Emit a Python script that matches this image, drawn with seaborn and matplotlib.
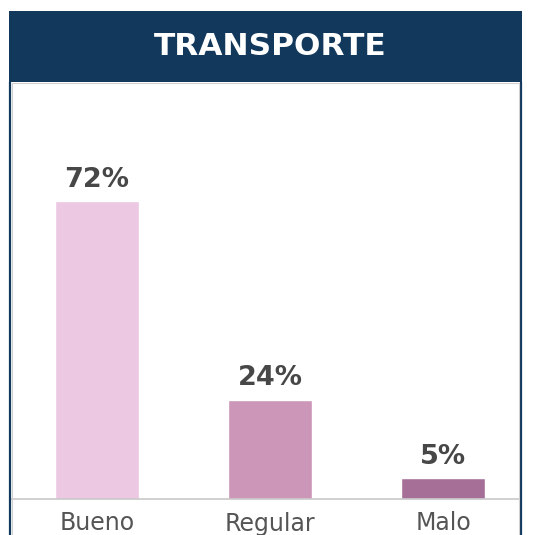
import matplotlib
matplotlib.use("Agg")
import matplotlib.pyplot as plt
import seaborn as sns
import pandas as pd
from matplotlib.patches import Rectangle
from matplotlib.lines import Line2D

categories = ["Bueno", "Regular", "Malo"]
values = [72, 24, 5]
labels = ["72%", "24%", "5%"]
colors = ["#EDC8E3", "#CC96B8", "#A66F98"]
title = "TRANSPORTE"

sns.set_theme(style="white")
plt.rcParams['font.family'] = ['DejaVu Sans']

W, H = 533, 535
fig = plt.figure(figsize=(W / 100, H / 100), dpi=100)

def fx(px):
    return px / W

def fy(py):
    return 1 - py / H

# frame: header and side borders
navy = "#12385C"
fig.patches.append(Rectangle((fx(9), fy(82)), fx(522) - fx(9), fy(11) - fy(82),
                             transform=fig.transFigure, facecolor=navy, edgecolor="none", zorder=0))
for x in (10, 521):
    fig.lines.append(Line2D([fx(x), fx(x)], [0, fy(82)], transform=fig.transFigure,
                            color=navy, lw=1.6, zorder=1))
for x in (12, 519):
    fig.lines.append(Line2D([fx(x), fx(x)], [0, fy(83)], transform=fig.transFigure,
                            color="#d0d0d0", lw=0.8, zorder=1))
fig.lines.append(Line2D([fx(12), fx(519)], [fy(83), fy(83)], transform=fig.transFigure,
                        color="#d0d0d0", lw=0.8, zorder=1))
fig.text(fx(270), fy(47), title, color="white", fontsize=22.5, fontweight="bold",
         ha="center", va="center")

# axes
left, right, top, base = 12, 520, 84, 499
ax = fig.add_axes([fx(left), fy(base), fx(right) - fx(left), fy(top) - fy(base)])
ax.set_facecolor("none")
df = pd.DataFrame({"cat": categories, "val": values})
sns.barplot(data=df, x="cat", y="val", hue="cat", palette=colors, legend=False,
            width=0.486, ax=ax, saturation=1)
px_per_unit = 173
ax.set_xlim((left - 97) / px_per_unit, (right - 97) / px_per_unit)
ax.set_ylim(0, (base - top) / 4.14)
for i, (v, lab) in enumerate(zip(values, labels)):
    ax.annotate(lab, (i, v), xytext=(0, 6), textcoords="offset points", ha="center", va="bottom",
                fontsize=19.5, fontweight="bold", color="#474747")
for s in ("left", "right", "top"):
    ax.spines[s].set_visible(False)
ax.spines["bottom"].set_color("#c8c8c8")
ax.spines["bottom"].set_linewidth(1.2)
ax.set_yticks([])
ax.set_xlabel("")
ax.set_ylabel("")
ax.tick_params(axis="x", length=0, pad=9, labelsize=17, labelcolor="#555555")

fig.savefig("out.png", dpi=100)
